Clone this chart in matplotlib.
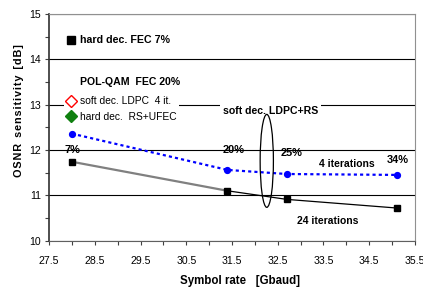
import matplotlib
matplotlib.use('Agg')
import matplotlib.pyplot as plt
from matplotlib.lines import Line2D
from matplotlib.patches import Ellipse
from matplotlib.ticker import MultipleLocator, FixedLocator

plt.rcParams['font.family'] = ['Liberation Sans Narrow', 'Liberation Sans', 'DejaVu Sans']

# symbol rate [Gbaud] for FEC overheads 7%, 20%, 25%, 34%
rate = [28.0, 31.4, 32.7, 35.1]
overhead = ['7%', '20%', '25%', '34%']
# OSNR sensitivity [dB]
osnr_24it = [11.74, 11.10, 10.91, 10.72]
osnr_4it = [12.36, 11.56, 11.47, 11.45]

fig = plt.figure(figsize=(4.23, 2.91), dpi=100)
ax = fig.add_axes([0.116, 0.173, 0.865, 0.779])

# 24 iterations: grey from 7% to 20%, black afterwards
ax.plot(rate[:2], osnr_24it[:2], color='#808080', lw=1.6, zorder=3)
ax.plot(rate[1:], osnr_24it[1:], color='black', lw=0.9, zorder=3)
ax.plot(rate, osnr_24it, ls='none', marker='s', ms=4.2, color='black', zorder=4)

# 4 iterations
ax.plot(rate, osnr_4it, color='#0000ff', lw=1.6, ls=(0, (1.4, 1.4)),
        marker='o', ms=4.2, zorder=4)

ax.set_xlim(27.5, 35.5)
ax.set_ylim(10, 15)
ax.xaxis.set_major_locator(FixedLocator([27.5 + i for i in range(9)]))
ax.xaxis.set_minor_locator(FixedLocator([28.0 + i for i in range(8)]))
ax.yaxis.set_major_locator(MultipleLocator(1))
ax.yaxis.set_minor_locator(MultipleLocator(0.5))
ax.tick_params(axis='both', which='both', direction='out', length=3, width=0.8,
               color='#404040', labelsize=7.6)
ax.tick_params(axis='x', pad=8)
ax.tick_params(axis='y', pad=3)
ax.grid(True, axis='y', which='major', color='black', lw=0.8, zorder=1)

for s in ['top', 'right']:
    ax.spines[s].set_color('#909090')
ax.spines['left'].set_color('#303030')
ax.spines['bottom'].set_color('#606060')
ax.spines['left'].set_linewidth(1.2)

ax.set_xlabel('Symbol rate   [Gbaud]', fontsize=8.3, fontweight='bold')
ax.xaxis.set_label_coords(0.522, -0.15)
hs = '\u200a'
ax.set_ylabel(hs.join('OSNR') + '  ' + hs.join('sensitivity') + '  ' + hs.join('[dB]'),
              fontsize=7.8, fontweight='bold')
ax.yaxis.set_label_coords(-0.068, 0.572)

# overhead labels
label_pos = [(28.02, 12.0), (31.53, 12.0), (32.81, 11.93), (35.12, 11.78)]
for txt, (x, y) in zip(overhead, label_pos):
    ax.text(x, y, txt, ha='center', va='center', fontsize=7.9, fontweight='bold')

ax.text(34.02, 11.69, '4 iterations', ha='center', va='center', fontsize=7.5, fontweight='bold')
ax.text(33.6, 10.43, '24 iterations', ha='center', va='center', fontsize=7.5, fontweight='bold')
ax.text(32.34, 12.87, 'soft dec. LDPC+RS', ha='center', va='center', fontsize=7.6,
        fontweight='bold', bbox=dict(facecolor='white', edgecolor='none', pad=2), zorder=3)
ax.add_patch(Ellipse((32.26, 11.76), 0.29, 2.05, facecolor='none', edgecolor='black',
                     lw=0.9, zorder=5))

# legends
leg1 = ax.legend([Line2D([], [], ls='none', marker='s', ms=6, color='black')],
                 ['hard dec. FEC 7%'], loc='center left', bbox_to_anchor=(0.023, 0.883),
                 frameon=False, handlelength=0.8, handletextpad=0.4,
                 prop=dict(size=7.7, weight='bold'))
ax.add_artist(leg1)

ax.text(0.085, 0.701, 'POL-QAM  FEC 20%', transform=ax.transAxes, ha='left', va='center',
        fontsize=7.6, fontweight='bold', zorder=6)
handles = [Line2D([], [], ls='none', marker='D', ms=6.5, mfc='white', mec='red', mew=1),
           Line2D([], [], ls='none', marker='D', ms=6.5, color='#108010')]
leg2 = ax.legend(handles, ['soft dec. LDPC  4 it.', 'hard dec.  RS+UFEC'],
                 loc='center left', bbox_to_anchor=(0.028, 0.58), frameon=True,
                 facecolor='white', edgecolor='none', framealpha=1, fancybox=False,
                 handlelength=0.8, handletextpad=0.45, labelspacing=0.55, borderpad=0.25,
                 prop=dict(size=7.4))

fig.savefig('out.png', dpi=100)
